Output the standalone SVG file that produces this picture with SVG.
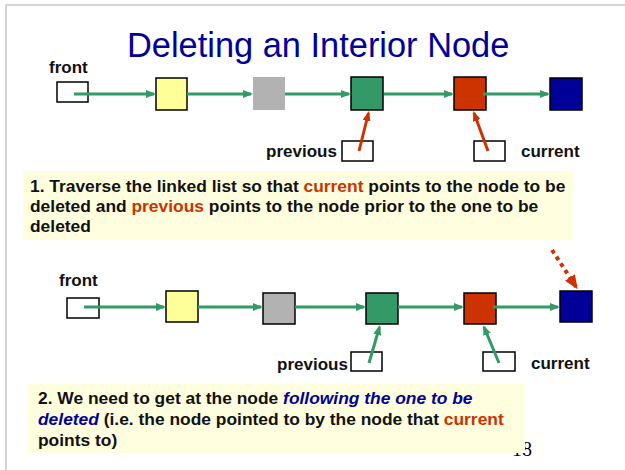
<svg xmlns="http://www.w3.org/2000/svg" width="625" height="470" viewBox="0 0 625 470">
  <style>
    .frame { stroke: #C8C8C8; stroke-width: 1.5; fill: none; }
    .title { font-family: "Liberation Sans", Arial, sans-serif; font-size: 34.4px; fill: #000099; }
    .lbl { font-family: "Liberation Sans", Arial, sans-serif; font-size: 17px; font-weight: bold; fill: #111; }
    .note { font-family: "Liberation Sans", Arial, sans-serif; font-size: 17.4px; font-weight: bold; fill: #111; }
    .hl { fill: #CC3300; }
    .em { fill: #000099; font-style: italic; }
    .notebg { fill: #FFFFDF; }
    .ptr { fill: #fff; stroke: #000; stroke-width: 1.5; }
    .node { stroke: #000; stroke-width: 1.5; }
    .link { stroke: #339966; stroke-width: 3; fill: none; }
    .redptr { stroke: #CC3300; stroke-width: 3; fill: none; }
    .dots { stroke: #CC3300; stroke-width: 4; stroke-dasharray: 4 4; fill: none; }
    .pageno { font-family: "Liberation Serif", "Times New Roman", serif; font-size: 20px; fill: #000; }
  </style>
  <defs>
    <marker id="ahGreen" viewBox="0 0 10 8" refX="8" refY="4" markerWidth="10" markerHeight="8" markerUnits="userSpaceOnUse" orient="auto">
      <path d="M0,0 L10,4 L0,8 z" fill="#339966"/>
    </marker>
    <marker id="ahRed" viewBox="0 0 10 8" refX="8" refY="4" markerWidth="10" markerHeight="8" markerUnits="userSpaceOnUse" orient="auto">
      <path d="M0,0 L10,4 L0,8 z" fill="#CC3300"/>
    </marker>
    <marker id="ahRedBig" viewBox="0 0 14 12" refX="12" refY="6" markerWidth="14" markerHeight="12" markerUnits="userSpaceOnUse" orient="auto">
      <path d="M0,0 L14,6 L0,12 z" fill="#CC3300"/>
    </marker>
  </defs>

  <!-- slide frame -->
  <path class="frame" d="M6,470 V5 H625"/>

  <text class="title" x="127" y="57">Deleting an Interior Node</text>

  <!-- ===== step 1 list ===== -->
  <g id="front1">
    <text class="lbl" x="49" y="73">front</text>
    <rect class="ptr" x="57" y="82" width="31" height="20"/>
  </g>
  <g id="n1a"><rect class="node" x="156" y="78" width="31" height="32" fill="#FFFF99"/></g>
  <g id="n1b"><rect x="253" y="77" width="32" height="33" fill="#B2B2B2"/></g>
  <g id="n1c"><rect class="node" x="351" y="77" width="32" height="33" fill="#339966"/></g>
  <g id="n1d"><rect class="node" x="454" y="77" width="32" height="33" fill="#CC3300"/></g>
  <g id="n1e"><rect class="node" x="550" y="78" width="32" height="32" fill="#000099"/></g>
  <g id="prev1">
    <text class="lbl" x="266" y="157">previous</text>
    <rect class="ptr" x="342" y="141" width="31" height="20"/>
  </g>
  <g id="cur1">
    <rect class="ptr" x="474" y="141" width="31" height="20"/>
    <text class="lbl" x="521" y="157">current</text>
  </g>

  <!-- ===== step 2 list ===== -->
  <g id="front2">
    <text class="lbl" x="59" y="286">front</text>
    <rect class="ptr" x="67" y="298" width="32" height="20"/>
  </g>
  <g id="n2a"><rect class="node" x="166" y="291" width="32" height="31" fill="#FFFF99"/></g>
  <g id="n2b"><rect class="node" x="263" y="293" width="32" height="31" fill="#B2B2B2"/></g>
  <g id="n2c"><rect class="node" x="366" y="293" width="32" height="31" fill="#339966"/></g>
  <g id="n2d"><rect class="node" x="464" y="293" width="32" height="31" fill="#CC3300"/></g>
  <g id="n2e"><rect class="node" x="560" y="291" width="32" height="31" fill="#000099"/></g>
  <g id="prev2">
    <text class="lbl" x="277" y="370">previous</text>
    <rect class="ptr" x="351" y="352" width="31" height="19"/>
  </g>
  <g id="cur2">
    <rect class="ptr" x="483" y="352" width="32" height="19"/>
    <text class="lbl" x="531" y="369">current</text>
  </g>

  <!-- ===== connectors ===== -->
  <g id="connectors">
    <line class="link" x1="74" y1="94" x2="154" y2="94" marker-end="url(#ahGreen)"/>
    <line class="link" x1="187" y1="94" x2="251" y2="94" marker-end="url(#ahGreen)"/>
    <line class="link" x1="285" y1="94" x2="349" y2="94" marker-end="url(#ahGreen)"/>
    <line class="link" x1="384" y1="94" x2="452" y2="94" marker-end="url(#ahGreen)"/>
    <line class="link" x1="483" y1="94" x2="548" y2="94" marker-end="url(#ahGreen)"/>
    <line class="redptr" x1="359" y1="151" x2="368.5" y2="113" marker-end="url(#ahRed)"/>
    <line class="redptr" x1="488" y1="151" x2="474" y2="113" marker-end="url(#ahRed)"/>

    <line class="link" x1="84" y1="307" x2="164" y2="307" marker-end="url(#ahGreen)"/>
    <line class="link" x1="198" y1="307" x2="261" y2="307" marker-end="url(#ahGreen)"/>
    <line class="link" x1="295" y1="307" x2="364" y2="307" marker-end="url(#ahGreen)"/>
    <line class="link" x1="398" y1="307" x2="462" y2="307" marker-end="url(#ahGreen)"/>
    <line class="link" x1="493" y1="307" x2="558" y2="307" marker-end="url(#ahGreen)"/>
    <line class="link" x1="369" y1="363" x2="379.5" y2="327" marker-end="url(#ahGreen)"/>
    <line class="link" x1="499" y1="363" x2="484" y2="327" marker-end="url(#ahGreen)"/>
    <line class="dots" x1="552" y1="250" x2="576.5" y2="287.5" marker-end="url(#ahRedBig)"/>
  </g>

  <!-- ===== notes ===== -->
  <g id="note1">
    <rect class="notebg" x="23" y="171" width="550" height="69"/>
    <text class="note" x="30" y="192">1. Traverse the linked list so that <tspan class="hl">current</tspan> points to the node to be</text>
    <text class="note" x="30" y="212">deleted and <tspan class="hl">previous</tspan> points to the node prior to the one to be</text>
    <text class="note" x="30" y="232">deleted</text>
  </g>

  <text class="pageno" x="512" y="456">18</text>

  <g id="note2">
    <rect class="notebg" x="27" y="384" width="498" height="69"/>
    <text class="note" x="38" y="404">2. We need to get at the node <tspan class="em">following the one to be</tspan></text>
    <text class="note" x="38" y="425"><tspan class="em">deleted</tspan> (i.e. the node pointed to by the node that <tspan class="hl">current</tspan></text>
    <text class="note" x="38" y="446">points to)</text>
  </g>
</svg>
